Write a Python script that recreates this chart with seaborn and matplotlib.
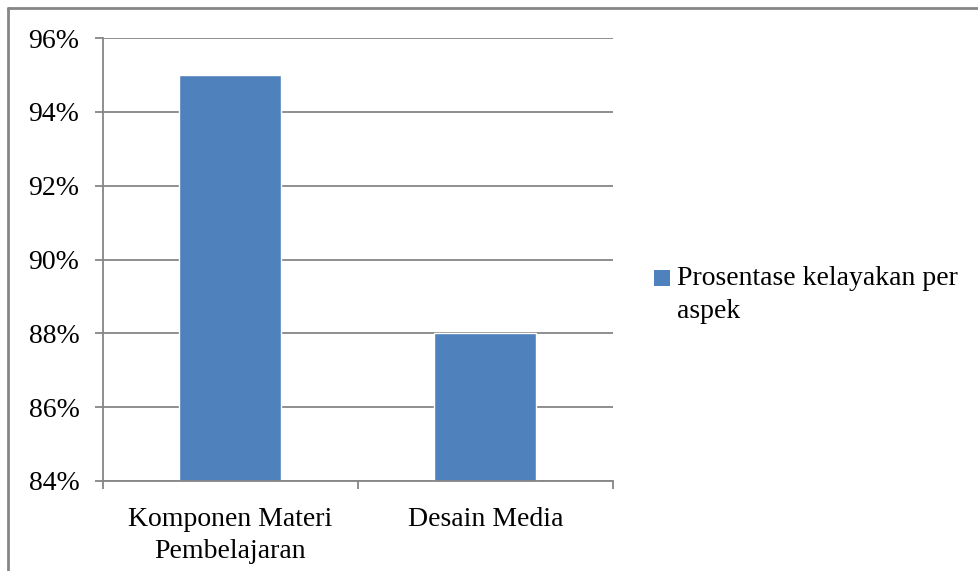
import matplotlib
matplotlib.use("Agg")
import matplotlib.pyplot as plt
from matplotlib.lines import Line2D
from matplotlib.patches import Rectangle
from matplotlib.legend_handler import HandlerPatch
from matplotlib.ticker import FuncFormatter
import seaborn as sns
import pandas as pd

# Data
categories = ["Komponen Materi\nPembelajaran", "Desain Media"]
values = [95, 88]
series_name = "Prosentase kelayakan per\naspek"
y_ticks = [84, 86, 88, 90, 92, 94, 96]

df = pd.DataFrame({"aspek": categories, "persen": values, "seri": series_name})

sns.set_theme(style="white")
plt.rcParams["font.family"] = ["Liberation Serif", "DejaVu Serif"]

GRAY = "#868686"
BLUE = "#4F81BD"

fig = plt.figure(figsize=(9.79, 5.71), dpi=100)
ax = fig.add_axes([103 / 979, 1 - 481 / 571, 510 / 979, 443 / 571])

sns.barplot(data=df, x="aspek", y="persen", hue="seri", palette=[BLUE],
            width=0.4, ax=ax, legend=True, saturation=1)

ax.set_ylim(84, 96)
ax.set_xlim(-0.5, 1.5)
ax.set_yticks(y_ticks)
ax.yaxis.set_major_formatter(FuncFormatter(lambda v, _: f"{v:.0f}%"))
ax.set_xlabel("")
ax.set_ylabel("")

ax.grid(axis="y", color=GRAY, linewidth=1.3)
ax.set_axisbelow(True)
for s in ["top", "right"]:
    ax.spines[s].set_visible(False)
for s in ["left", "bottom"]:
    ax.spines[s].set_color(GRAY)
    ax.spines[s].set_linewidth(1.3)

ax.tick_params(axis="y", which="major", left=True, length=6, width=1.3,
               color=GRAY, pad=11, labelsize=20, labelcolor="black")
ax.tick_params(axis="x", which="major", length=0, pad=19, labelsize=20,
               labelcolor="black")
ax.set_xticks([-0.5, 0.5, 1.5], minor=True)
ax.tick_params(axis="x", which="minor", bottom=True, length=6, width=1.3, color=GRAY)
for lab in ax.get_xticklabels():
    lab.set_linespacing(1.36)


class TopAlignedSquare(HandlerPatch):
    def create_artists(self, legend, orig_handle, xdescent, ydescent,
                       width, height, fontsize, trans):
        s = 0.6 * fontsize
        x0 = -xdescent + width - s
        y0 = -ydescent + height / 2 - s / 2 + 0.6 * fontsize
        p = Rectangle((x0, y0), s, s, facecolor=BLUE, edgecolor="none",
                      transform=trans)
        return [p]


handles, labels = ax.get_legend_handles_labels()
leg = ax.legend(handles, labels, loc="center left",
                bbox_to_anchor=(651 / 979, 1 - 295 / 571),
                bbox_transform=fig.transFigure, frameon=False, fontsize=20,
                handlelength=0.7, handletextpad=0.25, borderpad=0, borderaxespad=0,
                handler_map={Rectangle: TopAlignedSquare()})
for t in leg.get_texts():
    t.set_linespacing(1.38)
    t.set_color("black")

# Outer chart border (top and left edges)
fig.add_artist(Line2D([8 / 979, 8 / 979], [0, 1 - 8 / 571], color=GRAY,
                      linewidth=2, transform=fig.transFigure))
fig.add_artist(Line2D([8 / 979, 1], [1 - 8 / 571, 1 - 8 / 571], color=GRAY,
                      linewidth=2, transform=fig.transFigure))

fig.savefig("out.png", dpi=100)
